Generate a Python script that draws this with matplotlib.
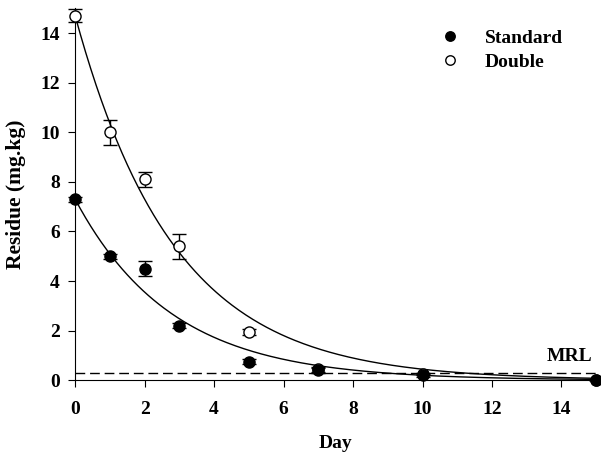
import numpy as np
import matplotlib.pyplot as plt

plt.rcParams['font.family'] = ['Liberation Serif', 'DejaVu Serif']
plt.rcParams['font.weight'] = 'bold'

days = [0, 1, 2, 3, 5, 7, 10, 15]
standard = [7.3, 5.0, 4.5, 2.2, 0.75, 0.4, 0.2, 0.0]
standard_err = [0.1, 0.1, 0.3, 0.1, 0.1, 0.1, 0.05, 0.0]
double = [14.7, 10.0, 8.1, 5.4, 1.95, 0.45, 0.25, 0.0]
double_err = [0.25, 0.5, 0.3, 0.5, 0.12, 0.1, 0.05, 0.0]

# first order decay fits: C0, k
std_fit = (7.3, 0.36)
dbl_fit = (14.7, 0.35)
mrl = 0.3

fig = plt.figure(figsize=(6.01, 4.57), dpi=100)
ax = fig.add_axes([0.125, 0.168, 0.867, 0.814])

t = np.linspace(0, 15, 300)
ax.plot(t, std_fit[0] * np.exp(-std_fit[1] * t), color='k', lw=1)
ax.plot(t, dbl_fit[0] * np.exp(-dbl_fit[1] * t), color='k', lw=1)
ax.axhline(mrl, color='k', lw=1, ls=(0, (7, 3.5)))

ax.errorbar(days, double, yerr=double_err, fmt='o', mfc='white', mec='k', ecolor='k',
            ms=8, capsize=5, elinewidth=1, capthick=1, label='Double', zorder=3, clip_on=False)
ax.errorbar(days, standard, yerr=standard_err, fmt='o', color='k',
            ms=8, capsize=5, elinewidth=1, capthick=1, label='Standard', zorder=4, clip_on=False)

ax.text(14.9, 0.6, 'MRL', fontsize=14, fontweight='bold', ha='right', va='bottom')

ax.set_xlim(0, 15)
ax.set_ylim(0, 15)
ax.set_xticks(np.arange(0, 15, 2))
ax.set_yticks(np.arange(0, 15, 2))
ax.tick_params(labelsize=14, direction='out', length=5)
ax.tick_params(axis='x', pad=10)
ax.tick_params(axis='y', pad=6)
ax.spines['top'].set_visible(False)
ax.spines['right'].set_visible(False)
ax.set_xlabel('Day', fontsize=14, fontweight='bold', labelpad=12)
ax.set_ylabel('Residue (mg.kg)', fontsize=15.5, fontweight='bold', labelpad=10)

h, l = ax.get_legend_handles_labels()
leg = ax.legend([hh[0] for hh in h[::-1]], l[::-1], loc='upper right', bbox_to_anchor=(0.97, 0.99),
                frameon=False, fontsize=14, handletextpad=0.8, labelspacing=0.3, markerscale=0.85)

fig.savefig('out.png', dpi=100)
